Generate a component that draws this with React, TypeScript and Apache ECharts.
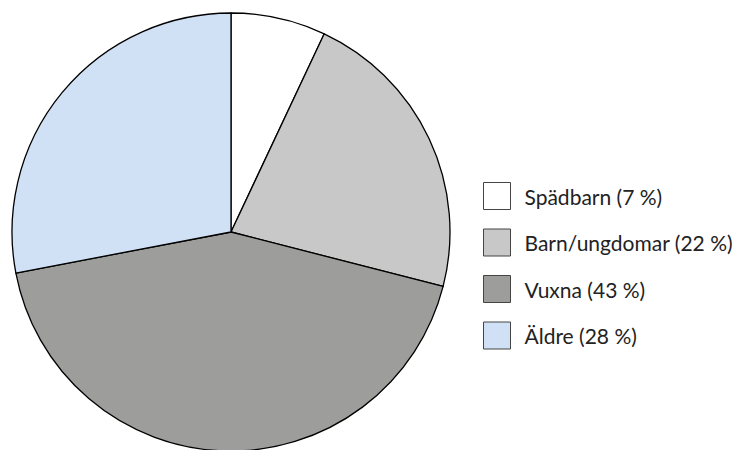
import React, { useEffect, useRef } from "react";
import * as echarts from "echarts";

const categories = ["Spädbarn", "Barn/ungdomar", "Vuxna", "Äldre"];
const values = [7, 22, 43, 28];
const colors = ["#ffffff", "#c8c8c8", "#9d9d9b", "#d0e1f6"];

export default function App() {
  const ref = useRef<HTMLDivElement>(null);
  useEffect(() => {
    if (!ref.current) return;
    const chart = echarts.init(ref.current, null, { renderer: "svg" });
    const data = categories.map((c, i) => ({
      name: `${c} (${values[i]} %)`,
      value: values[i],
      itemStyle: { color: colors[i] },
    }));
    chart.setOption({
      animation: false,
      backgroundColor: "#ffffff",
      legend: {
        orient: "vertical",
        left: 483,
        top: 182,
        padding: 0,
        itemWidth: 27,
        itemHeight: 27,
        itemGap: 18.5,
        icon: "rect",
        textStyle: { fontFamily: "Lato", fontSize: 21, color: "#222222", padding: [0, 0, 0, 9] },
        itemStyle: { borderColor: "#444444", borderWidth: 1 },
        selectedMode: false,
      },
      series: [
        {
          type: "pie",
          center: [231, 232],
          radius: [0, 219],
          startAngle: 90,
          clockwise: true,
          label: { show: false },
          labelLine: { show: false },
          emphasis: { disabled: true },
          itemStyle: { borderColor: "#000000", borderWidth: 1.3 },
          data,
        },
      ],
    });
    return () => chart.dispose();
  }, []);
  return <div ref={ref} style={{ width: 746, height: 450, position: "absolute", left: 0, top: 0 }} />;
}
